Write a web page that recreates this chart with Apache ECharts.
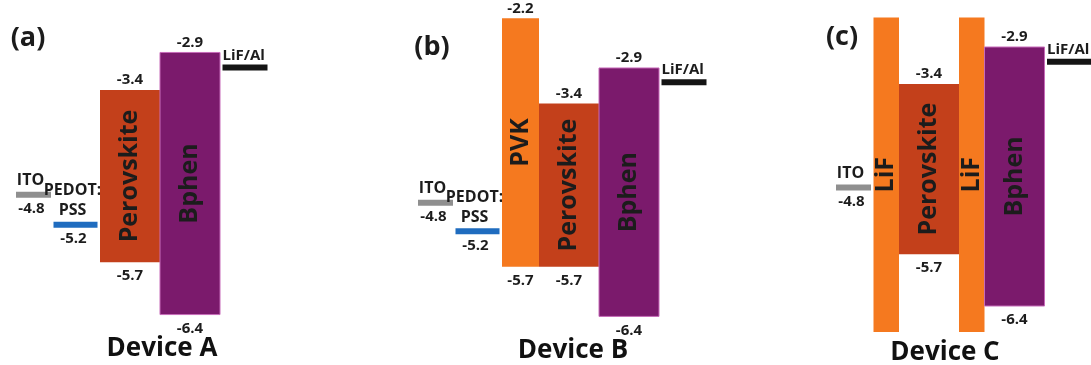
<!DOCTYPE html>
<html>
<head>
<meta charset="utf-8">
<script src="https://cdn.jsdelivr.net/npm/echarts@6/dist/echarts.min.js"></script>
<style>
  html, body { margin: 0; padding: 0; background: #ffffff; }
  #chart { width: 1091px; height: 365px; }
</style>
</head>
<body>
<div id="chart"></div>
<script>
// Energy-level diagrams (eV) of three perovskite LED stacks, anode -> cathode.
// upper = LUMO / work function, lower = HOMO / work function.
const deviceNames = ['Device A', 'Device B', 'Device C'];
const panelTags = ['(a)', '(b)', '(c)'];

const layersA = ['ITO', 'PEDOT:PSS', 'Perovskite', 'Bphen', 'LiF/Al'];
const upperA  = [-4.8, -5.2, -3.4, -2.9, -3.1];
const lowerA  = [-4.8, -5.2, -5.7, -6.4, -3.1];

const layersB = ['ITO', 'PEDOT:PSS', 'PVK', 'Perovskite', 'Bphen', 'LiF/Al'];
const upperB  = [-4.8, -5.2, -2.2, -3.4, -2.9, -3.1];
const lowerB  = [-4.8, -5.2, -5.7, -5.7, -6.4, -3.1];

const layersC = ['ITO', 'LiF', 'Perovskite', 'LiF', 'Bphen', 'LiF/Al'];
const upperC  = [-4.8, -2.5, -3.4, -2.5, -2.9, -3.1];
const lowerC  = [-4.8, -6.75, -5.7, -6.75, -6.4, -3.1];

// Look of each material: thin "level" lines for electrodes, filled boxes for layers.
const LAYER_STYLE = {
  'ITO':        { kind: 'level', color: '#8f8f8f', width: 35, label: 'ITO', showValue: true },
  'PEDOT:PSS':  { kind: 'level', color: '#1f6cbf', width: 44, label: 'PEDOT:\nPSS', showValue: true },
  'LiF/Al':     { kind: 'level', color: '#141414', width: 45, label: 'LiF/Al', showValue: false },
  'PVK':        { kind: 'box', color: '#f5791f', width: 37, label: 'PVK', showValue: true },
  'LiF':        { kind: 'box', color: '#f5791f', width: 25.5, label: 'LiF', showValue: false },
  'Perovskite': { kind: 'box', color: '#c3401b', width: 60, label: 'Perovskite', showValue: true },
  'Bphen':      { kind: 'box', color: '#7b1a6c', width: 60, label: 'Bphen', showValue: true, stroke: '#c76bb9' }
};

// Placement of each panel on the page.
const PANELS = [
  { start: 16,  top: 22.5, height: 337,   yMin: -7, yMax: -2.5, tag: [28, 38],  title: [162, 349] },
  { start: 418, top: 4.1,  height: 354.9, yMin: -7, yMax: -2,   tag: [432, 47], title: [573, 351] },
  { start: 836, top: 10,   height: 340.4, yMin: -7, yMax: -2.4, tag: [842, 37], title: [945, 353] }
];

const FONT = '"Open Sans", "Liberation Sans", sans-serif';
const TEXT = '#1c1c1c';
const LEVEL_GAP = 2.5;
const LEVEL_THICK = 6;
const VALUE_SIZE = 15;
const NAME_SIZE = 16;

const stacks = [
  [layersA, upperA, lowerA],
  [layersB, upperB, lowerB],
  [layersC, upperC, lowerC]
];

// Lay the layers out left to right; boxes touch, level lines get a small gap.
function buildData(names, upper, lower, start) {
  const out = [];
  let x = start;
  let prevKind = null;
  names.forEach((n, i) => {
    const st = LAYER_STYLE[n];
    if (prevKind !== null && (prevKind === 'level' || st.kind === 'level')) x += LEVEL_GAP;
    out.push([x, x + st.width, upper[i], lower[i], i]);
    x += st.width;
    prevKind = st.kind;
  });
  return out;
}

function txt(x, y, text, size, align, vAlign, extra) {
  return Object.assign({
    type: 'text', x: x, y: y,
    style: {
      text: text, fill: TEXT, font: 'bold ' + size + 'px ' + FONT,
      align: align || 'center', verticalAlign: vAlign || 'middle', lineHeight: 20
    }
  }, extra || {});
}

function makeRender(names) {
  return function (params, api) {
    const st = LAYER_STYLE[names[api.value(4)]];
    const up = api.value(2), lo = api.value(3);
    const pTop = api.coord([api.value(0), up]);
    const pBot = api.coord([api.value(1), lo]);
    const x0 = pTop[0], x1 = pBot[0], cx = (x0 + x1) / 2;
    const children = [];

    if (st.kind === 'level') {
      const y = pTop[1];
      children.push({
        type: 'rect',
        shape: { x: x0, y: y - LEVEL_THICK / 2, width: x1 - x0, height: LEVEL_THICK },
        style: { fill: st.color }
      });
      if (st.showValue) {
        children.push(txt(cx - 3, y - 4, st.label, NAME_SIZE, 'center', 'bottom'));
        children.push(txt(cx - 2, y + 14, up.toFixed(1), VALUE_SIZE));
      } else {
        children.push(txt(x0, y - 12, st.label, VALUE_SIZE, 'left'));
      }
    } else {
      const yT = pTop[1], yB = pBot[1];
      children.push({
        type: 'rect',
        shape: { x: x0, y: yT, width: x1 - x0, height: yB - yT },
        style: st.stroke ? { fill: st.color, stroke: st.stroke, lineWidth: 1 } : { fill: st.color }
      });
      children.push(txt(cx, (yT + yB) / 2, st.label, 25, 'center', 'middle', { rotation: Math.PI / 2 }));
      if (st.showValue) {
        children.push(txt(cx, yT - 10, up.toFixed(1), VALUE_SIZE));
        children.push(txt(cx, yB + 14, lo.toFixed(1), VALUE_SIZE));
      }
    }
    return { type: 'group', children: children };
  };
}

const grid = [], xAxis = [], yAxis = [], series = [], graphic = [];
PANELS.forEach((p, k) => {
  grid.push({ left: 0, right: 0, top: p.top, height: p.height });
  xAxis.push({ type: 'value', gridIndex: k, min: 0, max: 1091, show: false });
  yAxis.push({ type: 'value', gridIndex: k, min: p.yMin, max: p.yMax, show: false });
  const [names, upper, lower] = stacks[k];
  series.push({
    type: 'custom',
    xAxisIndex: k, yAxisIndex: k,
    renderItem: makeRender(names),
    encode: { x: [0, 1], y: [2, 3] },
    data: buildData(names, upper, lower, p.start),
    silent: true
  });
  graphic.push({
    type: 'text', x: p.tag[0], y: p.tag[1],
    style: { text: panelTags[k], fill: TEXT, font: 'bold 27px ' + FONT, align: 'center', verticalAlign: 'middle' }
  });
  graphic.push({
    type: 'text', x: p.title[0], y: p.title[1],
    style: { text: deviceNames[k], fill: '#111', font: 'bold 26px ' + FONT, align: 'center', verticalAlign: 'middle' }
  });
});

const chart = echarts.init(document.getElementById('chart'), null, { renderer: 'canvas' });
chart.setOption({
  animation: false,
  backgroundColor: '#ffffff',
  grid: grid,
  xAxis: xAxis,
  yAxis: yAxis,
  series: series,
  graphic: graphic
});
</script>
</body>
</html>
